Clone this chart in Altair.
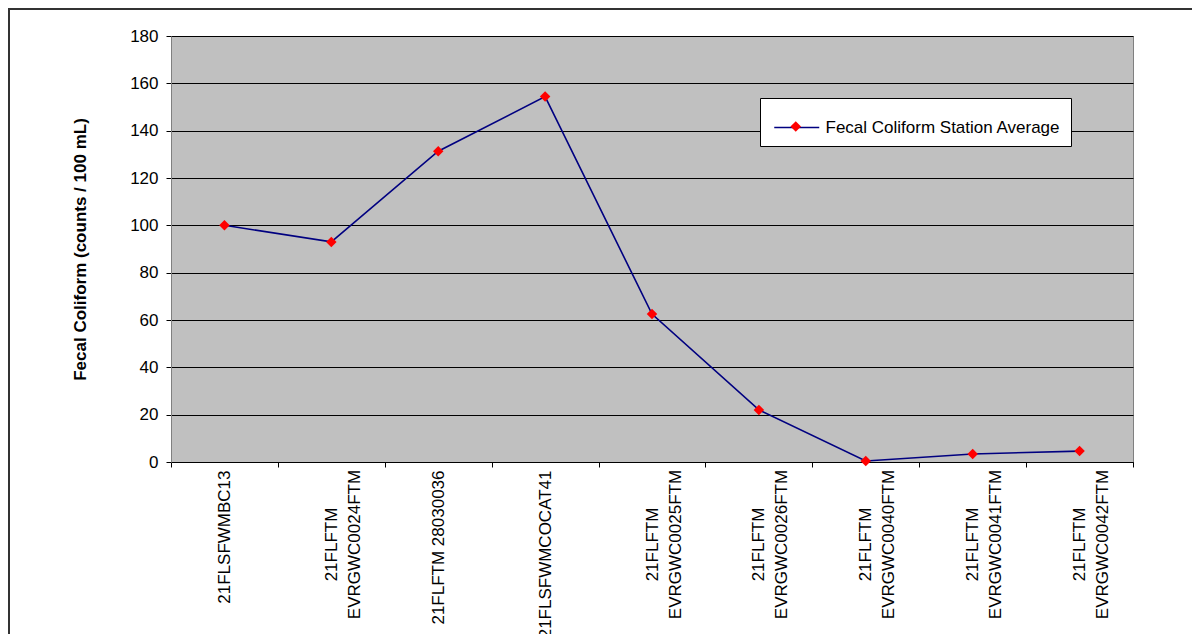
import altair as alt
import pandas as pd

stations = [
    "21FLSFWMBC13",
    "21FLFTM EVRGWC0024FTM",
    "21FLFTM 28030036",
    "21FLSFWMCOCAT41",
    "21FLFTM EVRGWC0025FTM",
    "21FLFTM EVRGWC0026FTM",
    "21FLFTM EVRGWC0040FTM",
    "21FLFTM EVRGWC0041FTM",
    "21FLFTM EVRGWC0042FTM",
]
values = [100, 93, 131.3, 154.4, 62.5, 22, 0.4, 3.4, 4.6]
series_name = "Fecal Coliform Station Average"
y_ticks = [0, 20, 40, 60, 80, 100, 120, 140, 160, 180]

df = pd.DataFrame({
    "station": stations,
    "value": values,
    "series": [series_name] * len(stations),
    "series_pt": [series_name] * len(stations),
})

W, H = 962, 426
FONT = "Liberation Sans"
two_line = "length(datum.label) > 17"

x_enc = alt.X(
    "station:N",
    sort=stations,
    bandPosition=0.5,
    scale=alt.Scale(type="band", paddingInner=0, paddingOuter=0),
    axis=alt.Axis(
        title=None,
        labelAngle=270,
        labelExpr="length(datum.label) > 17 ? split(datum.label, ' ') : datum.label",
        labelAlign={"condition": {"test": two_line, "value": "center"}, "value": "right"},
        labelPadding={"condition": {"test": two_line, "value": 77}, "value": 3},
        labelBaseline="middle",
        labelLineHeight=23,
        labelFont=FONT,
        labelFontSize=17,
        labelColor="black",
        labelLimit=0,
        labelOverlap=False,
        tickBand="extent",
        ticks=True,
        tickSize=5,
        tickColor="black",
        domainColor="black",
        grid=False,
    ),
)

y_enc = alt.Y(
    "value:Q",
    scale=alt.Scale(domain=[0, 180], nice=False),
    axis=alt.Axis(
        title="Fecal Coliform (counts / 100 mL)",
        values=y_ticks,
        grid=True,
        gridColor="black",
        gridWidth=1,
        tickColor="black",
        tickSize=5,
        labelPadding=8,
        labelFont=FONT,
        labelFontSize=17,
        labelColor="black",
        titleFont=FONT,
        titleFontSize=17,
        titleFontWeight="bold",
        titleColor="black",
        titlePadding=40,
        domainColor="#808080",
    ),
)

line = alt.Chart(df).mark_line(strokeWidth=1.6).encode(
    x=x_enc,
    y=y_enc,
    stroke=alt.Stroke(
        "series:N",
        scale=alt.Scale(range=["#000080"]),
        legend=alt.Legend(
            title=None,
            orient="none",
            legendX=589,
            legendY=62,
            padding=10,
            fillColor="white",
            strokeColor="black",
            symbolType="M-0.836,0H1.63",
            symbolSize=1332,
            symbolStrokeWidth=1.6,
            labelOffset=16.5,
            labelFont=FONT,
            labelFontSize=17,
            labelColor="black",
            labelLimit=0,
        ),
    ),
)

points = alt.Chart(df).mark_point(shape="diamond", filled=True, size=110, opacity=1).encode(
    x=x_enc,
    y=y_enc,
    fill=alt.Fill(
        "series_pt:N",
        scale=alt.Scale(range=["#FF0000"]),
        legend=alt.Legend(
            title=None,
            orient="none",
            legendX=589,
            legendY=62,
            padding=10,
            symbolType="M0.107,0L0.397,-0.29L0.687,0L0.397,0.29Z",
            symbolSize=1332,
            symbolStrokeWidth=0,
            symbolOpacity=1,
            labelOffset=16.5,
            labelFont=FONT,
            labelFontSize=17,
            labelOpacity=0,
            labelLimit=0,
        ),
    ),
)

frame = alt.Chart(pd.DataFrame({"a": [0]})).mark_rect(
    filled=False, stroke="#333333", strokeWidth=2
).encode(
    x=alt.value(-162), x2=alt.value(1100),
    y=alt.value(-27), y2=alt.value(700),
)

chart = alt.layer(frame, line, points).resolve_legend(
    stroke="independent", fill="independent"
).properties(
    width=W,
    height=H,
    padding={"left": 163, "top": 28, "right": 59, "bottom": 172},
    autosize=alt.AutoSizeParams(type="none"),
    background="white",
).configure(
    font=FONT
).configure_view(
    fill="#C0C0C0", stroke="#808080", strokeWidth=1
)

chart.save("out.html", embed_options={"renderer": "svg", "actions": False})
